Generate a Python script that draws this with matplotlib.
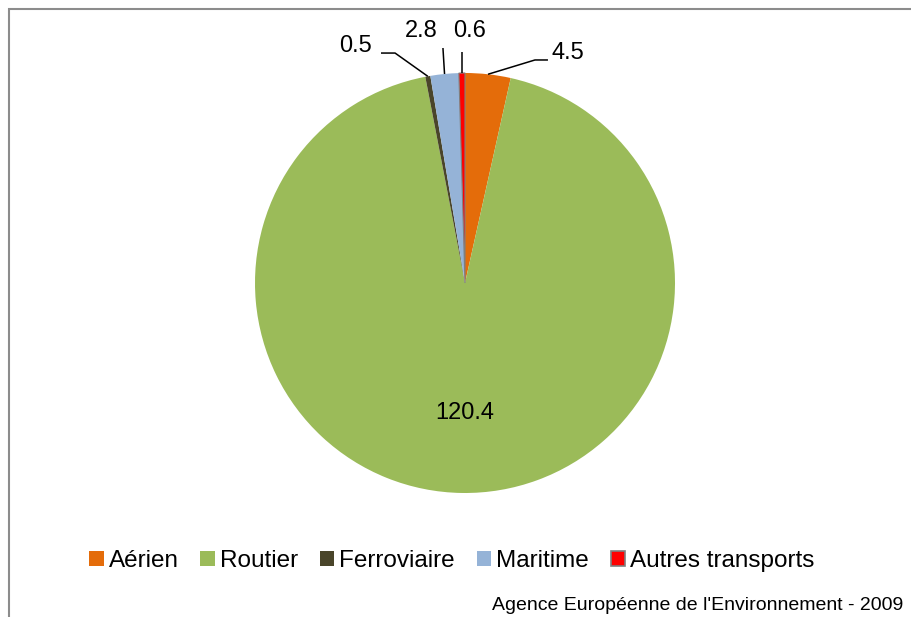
import numpy as np
import matplotlib
matplotlib.use("Agg")
import matplotlib.pyplot as plt
from matplotlib.patches import Rectangle

plt.rcParams['font.family'] = ['Liberation Sans', 'DejaVu Sans']

categories = ["Aérien", "Routier", "Ferroviaire", "Maritime", "Autres transports"]
values = [4.5, 120.4, 0.5, 2.8, 0.6]
value_labels = ["4.5", "120.4", "0.5", "2.8", "0.6"]
colors = ["#E46C0A", "#9BBB59", "#4A452A", "#95B3D7", "#FF0000"]
source = "Agence Européenne de l'Environnement - 2009"

W, H = 911, 617
fig = plt.figure(figsize=(W / 100, H / 100), dpi=100)
fig.patch.set_facecolor("white")

cx, cy, r = 465, 283, 210
ax = fig.add_axes([(cx - r) / W, (H - cy - r) / H, 2 * r / W, 2 * r / H])
wedges, _ = ax.pie(values, colors=colors, startangle=90, counterclock=False,
                   radius=1.0, wedgeprops=dict(linewidth=0))
wedges[4].set_edgecolor("#7f7f7f")
wedges[4].set_linewidth(0.8)
ax.set_xlim(-1, 1)
ax.set_ylim(-1, 1)
ax.set_aspect("equal")
ax.axis("off")

def edge_point(w):
    ang = np.deg2rad((w.theta1 + w.theta2) / 2)
    return np.cos(ang), np.sin(ang)

# label layout: (text position, leader path points between text and slice edge)
layout = {
    0: ((0.49, 1.095), [(0.395, 1.062), (0.333, 1.062)]),
    2: ((-0.52, 1.13), [(-0.40, 1.095), (-0.333, 1.095)]),
    3: ((-0.21, 1.20), [(-0.105, 1.119)]),
    4: ((0.02, 1.20), [(None, 1.10)]),
}
fs = 17
for i, w in enumerate(wedges):
    if i == 1:
        ax.text(0, -0.62, value_labels[i], ha="center", va="center", fontsize=fs, color="black")
        continue
    (tx, ty), pts = layout[i]
    ex, ey = edge_point(w)
    pts = [(ex if px is None else px, py) for px, py in pts]
    xs = [p[0] for p in pts] + [ex]
    ys = [p[1] for p in pts] + [ey]
    ax.plot(xs, ys, color="black", lw=1.1, clip_on=False, solid_capstyle="butt")
    ax.text(tx, ty, value_labels[i], ha="center", va="center", fontsize=fs, color="black", clip_on=False)

leg = fig.legend(wedges, categories, loc="center", bbox_to_anchor=(0.496, 1 - 561 / H),
                 ncol=5, frameon=False, fontsize=17.5, handlelength=0.6, handleheight=0.6,
                 handletextpad=0.2, columnspacing=0.9, borderaxespad=0)
for h in leg.legend_handles:
    h.set_linewidth(0)
leg.legend_handles[4].set_edgecolor("#7f7f7f")
leg.legend_handles[4].set_linewidth(1.2)

fig.text(903 / W, 1 - 606 / H, source, ha="right", va="center", fontsize=14, color="black")

fig.patches.append(Rectangle((9 / W, -0.1), 1.2, 1.1 - 9 / H + 0.0, transform=fig.transFigure,
                             fill=False, edgecolor="#8c8c8c", linewidth=1.5))

fig.savefig("out.png", dpi=100)
